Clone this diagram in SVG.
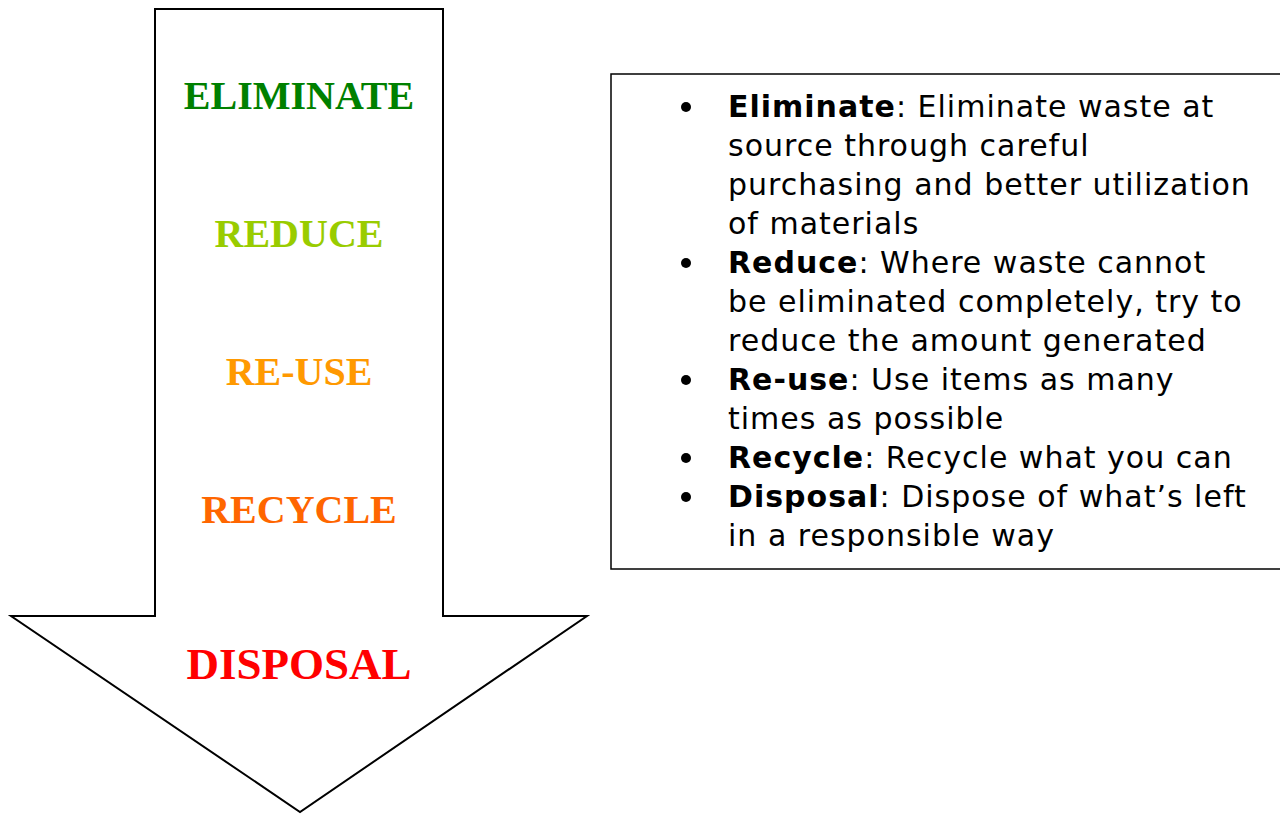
<svg xmlns="http://www.w3.org/2000/svg" width="1280" height="814" viewBox="0 0 1280 814">
  <style>
    .outline { fill: #ffffff; stroke: #000000; stroke-width: 2; stroke-linejoin: miter; }
    .stage { font-family: "Liberation Serif", "Times New Roman", serif; font-weight: bold; font-size: 40px; text-anchor: middle; }
    .stage.large { font-size: 45px; }
    .body { font-family: "DejaVu Sans", Verdana, sans-serif; font-size: 30px; letter-spacing: 1px; fill: #000000; }
    .body .key { font-weight: bold; }
  </style>
  <rect width="1280" height="814" fill="#ffffff"/>

  <!-- Down arrow of the waste hierarchy -->
  <g id="hierarchy-arrow">
    <polygon class="outline" points="155,9 443,9 443,616 587,616 300,812 11,616 155,616"/>
  </g>

  <g id="stage-eliminate"><text class="stage" x="299" y="109" fill="#008000">ELIMINATE</text></g>
  <g id="stage-reduce"><text class="stage" x="299" y="247" fill="#99CC00">REDUCE</text></g>
  <g id="stage-reuse"><text class="stage" x="299" y="385" fill="#FF9900">RE-USE</text></g>
  <g id="stage-recycle"><text class="stage" x="299" y="523" fill="#FF6600">RECYCLE</text></g>
  <g id="stage-disposal"><text class="stage large" x="299" y="679" fill="#FF0000">DISPOSAL</text></g>

  <!-- Explanation box -->
  <g id="explanation">
    <rect x="611" y="74" width="690" height="495" fill="#ffffff" stroke="#000000" stroke-width="1.5"/>
    <g fill="#000000">
      <circle cx="686" cy="107" r="5"/>
      <circle cx="686" cy="263" r="5"/>
      <circle cx="686" cy="380" r="5"/>
      <circle cx="686" cy="458" r="5"/>
      <circle cx="686" cy="497" r="5"/>
    </g>
    <text class="body">
      <tspan x="728" y="117"><tspan class="key">Eliminate</tspan>: Eliminate waste at</tspan>
      <tspan x="728" y="156">source through careful</tspan>
      <tspan x="728" y="195">purchasing and better utilization</tspan>
      <tspan x="728" y="234">of materials</tspan>
      <tspan x="728" y="273"><tspan class="key">Reduce</tspan>: Where waste cannot</tspan>
      <tspan x="728" y="312">be eliminated completely, try to</tspan>
      <tspan x="728" y="351">reduce the amount generated</tspan>
      <tspan x="728" y="390"><tspan class="key">Re-use</tspan>: Use items as many</tspan>
      <tspan x="728" y="429">times as possible</tspan>
      <tspan x="728" y="468"><tspan class="key">Recycle</tspan>: Recycle what you can</tspan>
      <tspan x="728" y="507"><tspan class="key">Disposal</tspan>: Dispose of what’s left</tspan>
      <tspan x="728" y="546">in a responsible way</tspan>
    </text>
  </g>
</svg>
